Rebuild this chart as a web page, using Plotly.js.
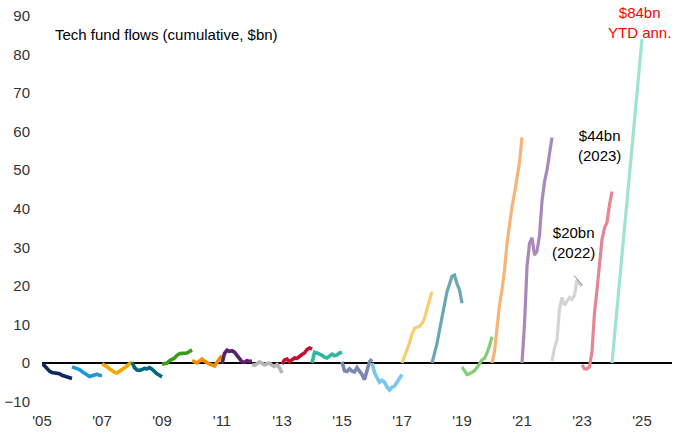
<!DOCTYPE html>
<html>
<head>
<meta charset="utf-8">
<script src="https://cdn.plot.ly/plotly-3.0.1.min.js"></script>
<style>html,body{margin:0;padding:0;background:#fff;}#chart{width:684px;height:436px;}</style>
</head>
<body>
<div id="chart"></div>
<script>
// Years and monthly cumulative flows ($bn)
const years = [2005,2006,2007,2008,2009,2010,2011,2012,2013,2014,2015,2016,2017,2018,2019,2020,2021,2022,2023];
const flows2005 = [0, -0.8, -1.6, -2.1, -2.5, -2.6, -2.7, -2.8, -3.2, -3.4, -3.6, -3.8, -4.0];
const flows2006 = [-1.0, -1.2, -1.5, -1.7, -2.2, -2.7, -3.2, -3.5, -3.3, -3.0, -2.9, -3.2, -3.3];
const flows2007 = [-0.2, -0.5, -1.0, -1.5, -2.0, -2.4, -2.6, -2.2, -1.8, -1.3, -0.8, -0.2, 0.2];
const flows2008 = [0.2, -1.2, -1.8, -1.9, -1.7, -1.4, -1.5, -1.2, -1.6, -2.3, -2.8, -3.2, -3.6];
const flows2009 = [-0.3, -0.2, 0.0, 0.6, 1.0, 1.3, 2.0, 2.4, 2.5, 2.6, 2.6, 3.0, 3.4];
const flows2010 = [0.6, 0.3, 0.0, 0.5, 1.0, 0.5, 0.0, -0.3, -0.5, -0.8, 0.2, 1.2, 1.9];
const flows2011 = [-0.2, 2.5, 3.3, 3.0, 3.2, 2.8, 2.0, 1.2, 0.3, 0.2, 0.6, 0.4, 0.5];
const flows2012 = [-0.4, -0.6, -0.2, 0.3, 0.0, -0.5, -0.2, 0.0, -0.6, -0.9, -0.4, -1.2, -2.6];
const flows2013 = [-0.3, 0.8, 1.0, 0.3, 0.8, 1.3, 1.2, 1.8, 2.2, 2.6, 3.5, 3.9, 3.6];
const flows2014 = [0.0, 2.8, 2.6, 2.4, 2.0, 1.5, 1.3, 1.8, 2.3, 1.9, 2.1, 2.6, 2.8];
const flows2015 = [0.3, -2.0, -2.2, -1.5, -2.1, -2.3, -1.2, -2.0, -3.0, -4.3, -1.5, 0.3, 1.0];
const flows2016 = [0, -2.5, -3.8, -5.0, -4.5, -5.0, -6.2, -7.0, -6.3, -6.0, -5.0, -4.0, -3.0];
const flows2017 = [0, 1.7, 3.5, 5.2, 7.5, 9.0, 9.3, 9.5, 10.3, 11.5, 14.0, 16.5, 18.5];
const flows2018 = [0, 2.5, 5.0, 8.5, 12.0, 15.5, 18.5, 20.5, 22.5, 22.8, 20.5, 19.0, 15.5];
const flows2019 = [-1.0, -2.0, -3.0, -2.8, -2.3, -2.0, -1.2, 0.0, 0.8, 1.2, 2.6, 4.5, 6.8];
const flows2020 = [0, 3, 9, 15, 19, 24, 31, 36, 40.5, 44, 47.5, 52, 58.5];
const flows2021 = [0, 10, 25, 31, 32.5, 28, 29, 33, 42, 47, 50, 55, 58.5];
const flows2022 = [0.5, 4, 6, 14, 17, 15, 16, 17, 16.5, 17.5, 21.5, 20.5, 20];
const flows2023 = [-0.5, -1.5, -1.5, -1.0, 3, 13, 19, 25, 32, 35, 36.5, 41, 44.5];
// 2024: YTD annualised
const year2024 = 2024;
const flows2024 = [0, 84];

const tickYears = [2005,2007,2009,2011,2013,2015,2017,2019,2021,2023,2025];
const tickLabels = ["'05","'07","'09","'11","'13","'15","'17","'19","'21","'23","'25"];
const yTicks = [-10,0,10,20,30,40,50,60,70,80,90];

const allFlows = [flows2005,flows2006,flows2007,flows2008,flows2009,flows2010,flows2011,flows2012,flows2013,flows2014,flows2015,flows2016,flows2017,flows2018,flows2019,flows2020,flows2021,flows2022,flows2023];
const colors = ['#0d2a5e','#1a9ad6','#f2a900','#00677f','#3a9a1a','#f08c00','#5c1f70','#b5b5b5','#c8102e','#2fb8a0',
                '#7a88b0','#78c8ee','#f8cd70','#6da6b5','#86cc74','#f7b477','#aa88b8','#d4d4d4','#e48592'];
const color2024 = '#9ee3d3';

const traces = years.map((yr, k) => {
  const vals = allFlows[k];
  const n = vals.length - 1;
  return {
    type: 'scatter', mode: 'lines',
    x: vals.map((v, i) => yr + i / n),
    y: vals,
    line: {color: colors[k], width: yr < 2017 ? 3.6 : 3.2},
    hoverinfo: 'skip', showlegend: false
  };
});
traces.push({
  type: 'scatter', mode: 'lines',
  x: flows2024.map((v, i) => year2024 + i / (flows2024.length - 1)),
  y: flows2024,
  line: {color: color2024, width: 3.2},
  hoverinfo: 'skip', showlegend: false
});

const F = 'Liberation Sans, Arial, sans-serif';
const layout = {
  width: 684, height: 436,
  margin: {l: 42, r: 12, t: 10, b: 26},
  paper_bgcolor: '#fff', plot_bgcolor: '#fff',
  font: {family: F, size: 15, color: '#333'},
  xaxis: {
    range: [2005, 2026], tickvals: tickYears, ticktext: tickLabels,
    showgrid: false, zeroline: false, showline: false, ticks: '',
    tickfont: {family: F, size: 15, color: '#333'}
  },
  yaxis: {
    range: [-12.19, 91.55], tickvals: yTicks,
    showgrid: false, zeroline: true, zerolinecolor: '#000', zerolinewidth: 1.3,
    showline: false, ticks: '', ticklabelstandoff: 11,
    tickfont: {family: F, size: 15, color: '#333'}
  },
  annotations: [
    {xref: 'x', yref: 'y', x: 2005.37, y: 85.3, xanchor: 'left', yanchor: 'middle', showarrow: false,
     text: 'Tech fund flows (cumulative, $bn)', font: {family: F, size: 15, color: '#000'}},
    {xref: 'x', yref: 'y', x: 2024.93, y: 88.4, xanchor: 'center', yanchor: 'middle', showarrow: false,
     text: '$84bn<br>YTD ann.', font: {family: F, size: 15, color: '#ff0000'}},
    {xref: 'x', yref: 'y', x: 2023.57, y: 56.5, xanchor: 'center', yanchor: 'middle', showarrow: false,
     text: '$44bn<br>(2023)', font: {family: F, size: 15, color: '#000'}},
    {xref: 'x', yref: 'y', x: 2022.7, y: 31.3, xanchor: 'center', yanchor: 'middle', showarrow: false,
     text: '$20bn<br>(2022)', font: {family: F, size: 15, color: '#000'}},
    {xref: 'x', yref: 'y', x: 2023.0, y: 20.2, ax: -9, ay: -11, showarrow: true, arrowhead: 0,
     arrowwidth: 1, arrowcolor: '#888', text: '', standoff: 0}
  ]
};

Plotly.newPlot('chart', traces, layout, {displayModeBar: false, staticPlot: true});
</script>
</body>
</html>
